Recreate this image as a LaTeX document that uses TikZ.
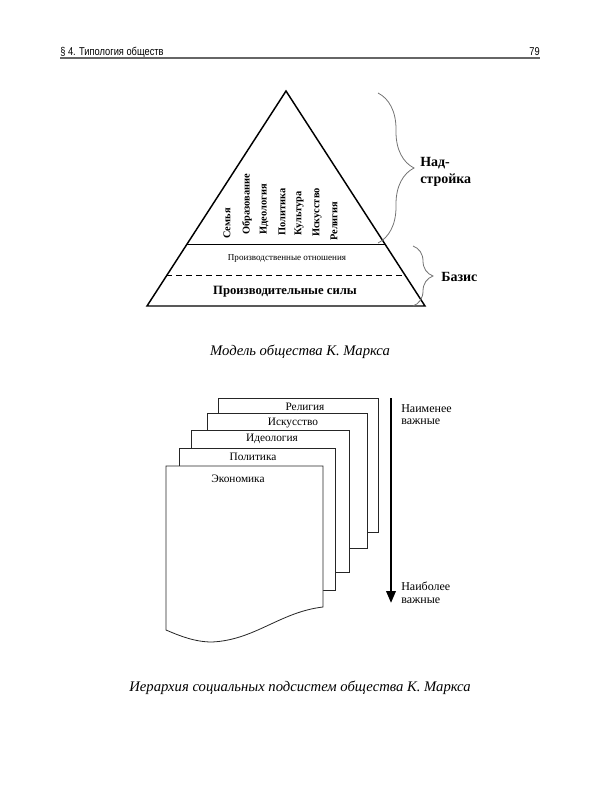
\documentclass[tikz,border=0pt]{standalone}
\usepackage{fontspec}
\setmainfont{Liberation Serif}
\newfontfamily\hdrfont[FakeStretch=0.82]{Liberation Sans}
\usetikzlibrary{decorations.pathreplacing,arrows.meta,calc}
\begin{document}
\begin{tikzpicture}[x=0.75pt,y=-0.75pt,
  tri/.style={line width=1.1pt,line join=miter},
  vlab/.style={rotate=90,anchor=west,inner sep=0pt,font=\fontsize{7.8pt}{8pt}\selectfont\bfseries},
  brc/.style={decorate,draw=black!55,line width=0.6pt},
  blab/.style={font=\fontsize{10.5pt}{13pt}\selectfont\bfseries,align=left,anchor=west,inner sep=0pt},
  page/.style={draw=black!85,fill=white,line width=0.6pt},
  ptext/.style={font=\fontsize{8.5pt}{10pt}\selectfont,inner sep=0pt},
  side/.style={font=\fontsize{9pt}{9.5pt}\selectfont,align=left,anchor=north west,inner sep=0pt},
  capt/.style={font=\fontsize{11pt}{13pt}\selectfont\itshape,inner sep=0pt}]
\useasboundingbox (0,0) rectangle (600,800);
% header
\node[anchor=base west,inner sep=0pt,font=\hdrfont\fontsize{8.5pt}{10pt}\selectfont] (hl) at (60,55) {§ 4. Типология обществ};
\node[anchor=base east,inner sep=0pt,font=\hdrfont\fontsize{8.5pt}{10pt}\selectfont] (hr) at (540,55) {79};
\coordinate (r1) at (60,58);
\coordinate (r2) at (540,58);
\draw[black!60,line width=1.1pt] (r1) -- (r2);
% pyramid
\coordinate (A) at (286,91);
\coordinate (L) at (147,306);
\coordinate (R) at (425,306);
\coordinate (s1) at ($(A)!0.716!(L)$);
\coordinate (s2) at ($(A)!0.716!(R)$);
\coordinate (d1) at ($(A)!0.86!(L)$);
\coordinate (d2) at ($(A)!0.86!(R)$);
\draw[tri] (A) -- (R) -- (L) -- cycle;
\draw[line width=0.7pt] (s1) -- (s2);
\draw[line width=0.8pt,dash pattern=on 4.5pt off 3pt] (d1) -- (d2);
\node[vlab] (v1) at (227,239) {Семья};
\node[vlab] (v2) at (247,235) {Образование};
\node[vlab] (v3) at (264,235) {Идеология};
\node[vlab] (v4) at (282,236) {Политика};
\node[vlab] (v5) at (299,236) {Культура};
\node[vlab] (v6) at (317,237) {Искусство};
\node[vlab] (v7) at (334,241) {Религия};
\node[inner sep=0pt,font=\fontsize{6.8pt}{8pt}\selectfont] (po) at (287,258) {Производственные отношения};
\node[inner sep=0pt,font=\fontsize{9.5pt}{11pt}\selectfont\bfseries] (ps) at (285,292) {Производительные силы};
% braces
\coordinate (b1) at (378,93);
\coordinate (b2) at (378,243);
\draw[brc,decoration={brace,amplitude=27pt}] (b1) -- (b2);
\node[blab] (nad) at (420,172) {Над-\\стройка};
\coordinate (c1) at (413,246);
\coordinate (c2) at (413,306);
\draw[brc,decoration={brace,amplitude=15pt}] (c1) -- (c2);
\node[blab] (baz) at (441,277) {Базис};
\node[capt] (cap1) at (300,352) {Модель общества К. Маркса};
% pages
\draw[page] (218,398) rectangle (378,532);
\draw[page] (207,413) rectangle (367,548);
\draw[page] (191,430) rectangle (349,572);
\draw[page] (179,448) rectangle (335,590);
\draw[page] (166,466) -- (323,466) -- (323,607)
  .. controls (280,612) and (255,640) .. (212,642)
  .. controls (195,642) and (180,636) .. (166,630) -- cycle;
\node[ptext] (t5) at (305,407) {Религия};
\node[ptext] (t4) at (293,423) {Искусство};
\node[ptext] (t3) at (272,439) {Идеология};
\node[ptext] (t2) at (253,457) {Политика};
\node[ptext] (t1) at (238,479) {Экономика};
% arrow
\coordinate (a1) at (391,398);
\coordinate (a2) at (391,603);
\draw[line width=1.8pt,-{Triangle[length=9pt,width=7pt]}] (a1) -- (a2);
\node[side] (least) at (401,404) {Наименее\\важные};
\node[side] (most) at (401,582) {Наиболее\\важные};
\node[capt] (cap2) at (300,688) {Иерархия социальных подсистем общества К. Маркса};
\end{tikzpicture}
\end{document}
